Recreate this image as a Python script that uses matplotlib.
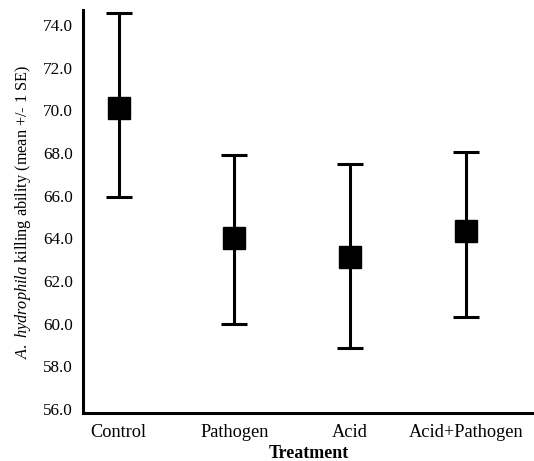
import matplotlib
matplotlib.use("Agg")
import matplotlib.pyplot as plt

categories = ["Control", "Pathogen", "Acid", "Acid+Pathogen"]
means = [70.1, 64.0, 63.1, 64.35]
upper = [74.55, 67.9, 67.5, 68.05]
lower = [65.95, 60.0, 58.85, 60.3]
yticks = [56.0, 58.0, 60.0, 62.0, 64.0, 66.0, 68.0, 70.0, 72.0, 74.0]

plt.rcParams['font.family'] = ['Liberation Serif', 'DejaVu Serif']
plt.rcParams['mathtext.fontset'] = 'custom'
plt.rcParams['mathtext.it'] = 'Liberation Serif:italic'
plt.rcParams['mathtext.rm'] = 'Liberation Serif'

fig = plt.figure(figsize=(5.34, 4.61), dpi=100)
ax = fig.add_axes([0.155, 0.104, 0.845, 0.874])

x = list(range(len(categories)))
yerr = [[m - l for m, l in zip(means, lower)], [u - m for m, u in zip(means, upper)]]
ax.errorbar(x, means, yerr=yerr, fmt='s', color='black', markersize=16,
            elinewidth=2.2, capsize=9.5, capthick=2.2, ecolor='black')

ax.set_xlim(-0.31, 3.59)
ax.set_ylim(55.8, 74.7)
ax.set_yticks(yticks)
ax.set_yticklabels([f"{v:.1f}" for v in yticks], fontsize=12.3)
ax.set_xticks(x)
ax.set_xticklabels(categories, fontsize=13.2)
ax.tick_params(axis='y', length=0, pad=7)
ax.tick_params(axis='x', length=0, pad=8)
for s in ['top', 'right']:
    ax.spines[s].set_visible(False)
for s in ['left', 'bottom']:
    ax.spines[s].set_linewidth(2.2)
ax.set_xlabel("Treatment", fontsize=13, fontweight='bold', labelpad=2.5)
ax.set_ylabel(r"$\it{A.\ hydrophila}$ killing ability (mean +/- 1 SE)", fontsize=11.7, labelpad=7)

fig.savefig("out.png", dpi=100)
